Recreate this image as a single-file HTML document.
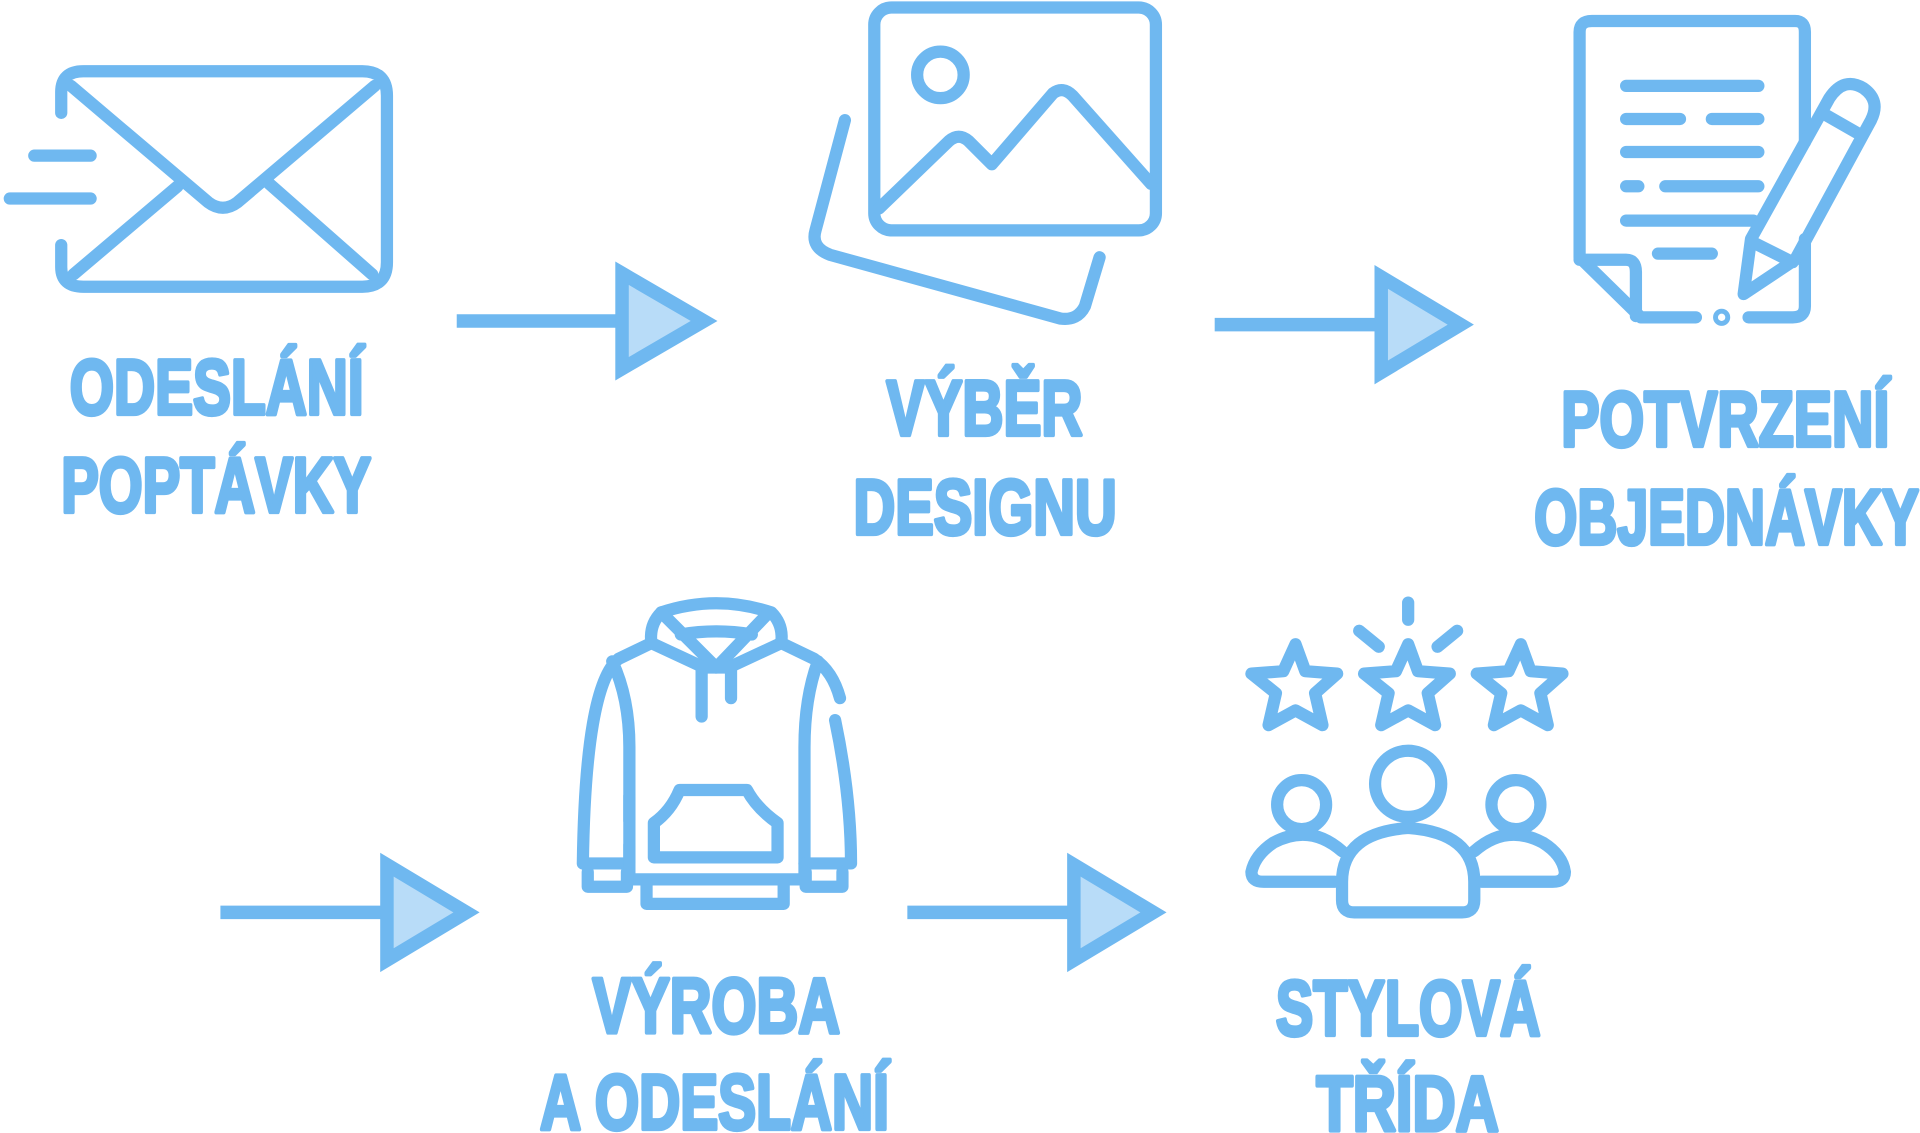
<!DOCTYPE html>
<html><head><meta charset="utf-8"><style>
html,body{margin:0;padding:0;background:#fff;width:1920px;height:1133px;overflow:hidden}
svg{display:block}
text{font-family:"Liberation Sans","DejaVu Sans",sans-serif;font-weight:bold;fill:#6fb8f0;stroke:#6fb8f0;stroke-width:3.5;stroke-linejoin:round}
</style></head><body>
<svg width="1920" height="1133" viewBox="0 0 1568 925" xmlns="http://www.w3.org/2000/svg">
<g fill="none" stroke="#6fb8f0" stroke-width="10" stroke-linecap="round" stroke-linejoin="round">
<!-- envelope -->
<path d="M50,92 V75 Q50,58 68,58 H296 Q316,58 316,78 V214 Q316,234 296,234 H68 Q50,234 50,218 V200"/>
<path d="M58,70 L170,165 Q182,174 194,165 L306,70"/>
<path d="M60,224 L145,152 M304,224 L220,150"/>
<path d="M28,127 H74 M8,162 H74"/>
<!-- pictures -->
<rect x="714" y="6" width="230" height="182" rx="14"/>
<circle cx="768" cy="61" r="19"/>
<path d="M718,170 L775,115 Q783,108 791,115 L810,134 L860,76 Q868,70 876,78 L940,150"/>
<path d="M690,98 L666,188 Q662,202 678,208 L866,260 Q880,262 886,250 L898,210"/>
<!-- document -->
<path d="M1385,259 H1340 L1290,210 V26 Q1290,17 1300,17 H1466 Q1474,17 1474,26 V116"/>
<path d="M1290,212 H1328 Q1336,212 1336,222 V258"/>
<path d="M1474,195 V250 Q1474,259 1464,259 H1428"/>
<circle cx="1406" cy="259" r="2"/>
<path d="M1328,70 H1436 M1328,97 H1372 M1398,97 H1436 M1328,124 H1436 M1328,152 H1338 M1360,152 H1436 M1328,180 H1432 M1354,207 H1398"/>
<path d="M1430,195 L1494,80 Q1506,62 1522,72 Q1536,82 1528,98 L1466,212 L1424,240 Z M1488,92 L1516,108 M1430,197 L1464,214"/>
<!-- hoodie -->
<path d="M540,500 Q585,485 630,500 Q640,510 638,525 L665,538 Q680,548 686,570 M682,588 Q695,650 695,705 H657 V610 Q657,570 668,540"/>
<path d="M628,500 L585,545 L540,500 Q530,510 532,525 L505,538 Q478,560 476,705 H514 V610 Q514,570 500,540"/>
<path d="M556,518 Q585,513 614,518 M573,545 V585 M597,545 V570"/>
<path d="M532,525 L575,545 H595 L638,525"/>
<path d="M514,650 V670 M514,690 V718 H657 V705"/>
<path d="M555,645 H610 Q618,660 635,672 V700 H534 V672 Q548,662 555,645 Z"/>
<path d="M480,712 V724 H512 V712 M658,712 V724 H688 V712 M528,722 V738 H640 V722"/>
<!-- stars & people -->
<path d="M1150,492 V506 M1110,515 L1126,528 M1190,515 L1174,528"/>
<path id="st" d="M1058,526 L1066,548 L1092,550 L1074,566 L1080,592 L1058,580 L1036,592 L1042,566 L1022,550 L1048,548 Z"/>
<use href="#st" x="92"/><use href="#st" x="184"/>
<circle cx="1150" cy="640" r="27"/>
<path d="M1096,735 V720 Q1096,680 1150,676 Q1204,680 1204,720 V735 Q1204,745 1194,745 H1106 Q1096,745 1096,735 Z"/>
<circle cx="1063" cy="657" r="20"/><circle cx="1238" cy="657" r="20"/>
<path d="M1096,695 Q1070,672 1040,688 Q1025,698 1022,712 Q1022,720 1032,720 H1090"/>
<path d="M1204,695 Q1230,672 1260,688 Q1276,698 1278,712 Q1278,720 1268,720 H1210"/>
</g>
<!-- arrows -->
<g stroke="#6fb8f0" stroke-width="11" fill="#b8dcf8" stroke-linejoin="miter">
<path d="M373,262 H503" fill="none"/><path d="M508,223 L575,262 L508,301 Z"/>
<path d="M992,265 H1123" fill="none"/><path d="M1128,226 L1193,265 L1128,304 Z"/>
<path d="M180,745 H311" fill="none"/><path d="M316,706 L381,745 L316,784 Z"/>
<path d="M741,745 H872" fill="none"/><path d="M877,706 L942,745 L877,784 Z"/>
</g>
<g font-size="64">
<text x="57" y="338" textLength="240" lengthAdjust="spacingAndGlyphs">ODESLÁNÍ</text>
<text x="50" y="418" textLength="253" lengthAdjust="spacingAndGlyphs">POPTÁVKY</text>
<text x="724" y="355" textLength="160" lengthAdjust="spacingAndGlyphs">VÝBĚR</text>
<text x="697" y="436" textLength="215" lengthAdjust="spacingAndGlyphs">DESIGNU</text>
<text x="1275" y="364" textLength="268" lengthAdjust="spacingAndGlyphs">POTVRZENÍ</text>
<text x="1253" y="444" textLength="314" lengthAdjust="spacingAndGlyphs">OBJEDNÁVKY</text>
<text x="484" y="843" textLength="202" lengthAdjust="spacingAndGlyphs">VÝROBA</text>
<text x="441" y="922" textLength="285" lengthAdjust="spacingAndGlyphs">A ODESLÁNÍ</text>
<text x="1042" y="845" textLength="216" lengthAdjust="spacingAndGlyphs">STYLOVÁ</text>
<text x="1075" y="923" textLength="149" lengthAdjust="spacingAndGlyphs">TŘÍDA</text>
</g>
</svg>
</body></html>
